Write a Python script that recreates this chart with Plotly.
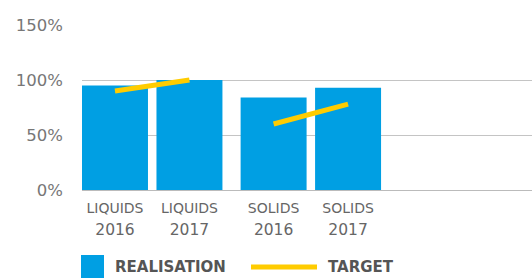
import plotly.graph_objects as go

categories = ["LIQUIDS", "LIQUIDS", "SOLIDS", "SOLIDS"]
years = ["2016", "2017", "2016", "2017"]
groups = [0, 0, 1, 1]
realisation = [95, 100, 84, 93]
target = [90, 100, 60, 78]
series_names = ["REALISATION", "TARGET"]
y_ticks = [0, 50, 100, 150]
y_tick_labels = ["0%", "50%", "100%", "150%"]

BLUE = "#009FE3"
YELLOW = "#FFCC00"
FONT = "DejaVu Sans"

group_gap = 0.13
xpos = [i + g * group_gap for i, g in enumerate(groups)]

# target segments: one per group, broken with None between groups
tx, ty = [], []
for g in sorted(set(groups)):
    idx = [i for i, gg in enumerate(groups) if gg == g]
    if tx:
        tx.append(None)
        ty.append(None)
    tx += [xpos[i] for i in idx]
    ty += [target[i] for i in idx]

ticktext = [
    f"<span style='font-size:14px'>{c}</span><br><span style='font-size:15.5px'>{y}</span>"
    for c, y in zip(categories, years)
]

fig = go.Figure()
fig.add_trace(go.Bar(x=xpos, y=realisation, width=0.886, marker=dict(color=BLUE, line=dict(width=0)),
                     name=series_names[0], showlegend=False))
fig.add_trace(go.Scatter(x=tx, y=ty, mode="lines", line=dict(color=YELLOW, width=5),
                         name=series_names[1], showlegend=False, connectgaps=False))

fig.update_layout(
    width=532, height=278,
    margin=dict(l=82, r=0, t=25, b=88, autoexpand=False),
    plot_bgcolor="white", paper_bgcolor="white",
    font=dict(family=FONT, color="#666666"),
    xaxis=dict(range=[-0.443, 5.6], tickvals=xpos, ticktext=ticktext, showgrid=False,
               zeroline=False, showline=False, ticks="", automargin=False, ticklabelstandoff=5,
               tickfont=dict(size=17, color="#666666")),
    yaxis=dict(range=[0, 150], tickvals=y_ticks, ticktext=y_tick_labels, showgrid=True,
               gridcolor="#C4C4C4", gridwidth=1, zeroline=True, zerolinecolor="#BBBBBB",
               zerolinewidth=1, showline=False, ticks="", ticklabelstandoff=18, automargin=False,
               tickfont=dict(size=16.5, color="#777777")),
    showlegend=False,
)

# custom legend
fig.add_shape(type="rect", xref="paper", yref="paper", x0=-1/450, x1=22/450,
              y0=-88/165, y1=-65/165, fillcolor=BLUE, line=dict(width=0))
fig.add_shape(type="line", xref="paper", yref="paper", x0=169/450, x1=235/450,
              y0=-77/165, y1=-77/165, line=dict(color=YELLOW, width=5))
fig.add_annotation(xref="paper", yref="paper", x=31/450, y=-77/165, xanchor="left", yanchor="middle",
                   text=f"<b>{series_names[0]}</b>", showarrow=False,
                   font=dict(size=15, color="#555555", family=FONT))
fig.add_annotation(xref="paper", yref="paper", x=244/450, y=-77/165, xanchor="left", yanchor="middle",
                   text=f"<b>{series_names[1]}</b>", showarrow=False,
                   font=dict(size=15, color="#555555", family=FONT))

fig.write_html("out.html", config={"displayModeBar": False},
               post_script="document.body.style.margin='0';document.body.style.overflow='hidden';")
